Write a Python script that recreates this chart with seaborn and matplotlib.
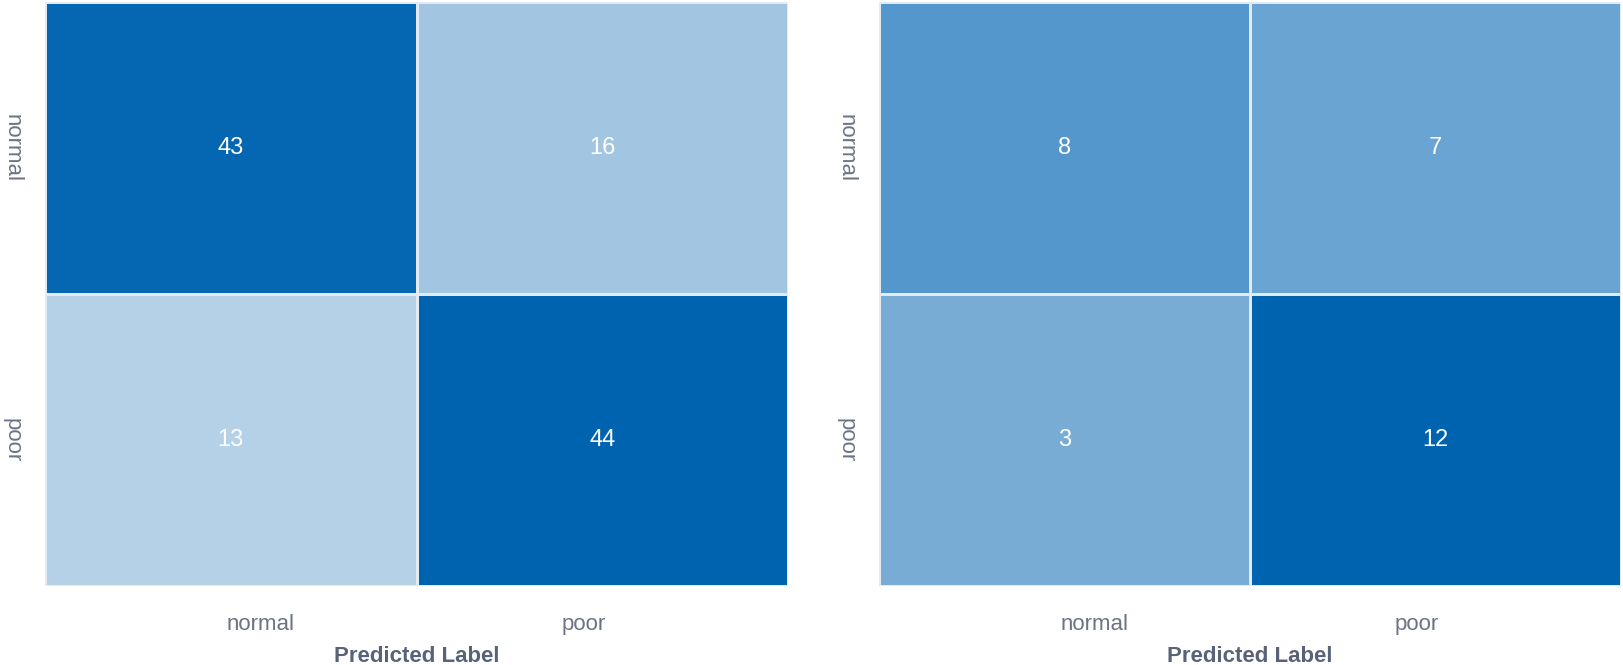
import numpy as np
import matplotlib
matplotlib.use("Agg")
import matplotlib.pyplot as plt
import seaborn as sns
from matplotlib.colors import LinearSegmentedColormap

# confusion matrices (rows = true, cols = predicted)
labels = ["normal", "poor"]
left_counts = [[43, 16],
               [13, 44]]
right_counts = [[8, 7],
                [3, 12]]

sns.set_style("white")
plt.rcParams['font.family'] = ['Liberation Sans', 'DejaVu Sans']

tick_color = "#6b7385"
label_color = "#596378"
line_color = "#e3eaf2"

# left panel: plain white -> blue ramp
cmap_left = LinearSegmentedColormap.from_list("blue_left", ["#ffffff", "#0063b0"])
# right panel: the ramp is not linear in the counts, so anchor it
cmap_right = LinearSegmentedColormap.from_list(
    "blue_right",
    [(0.0, "#ffffff"), (0.25, "#78acd5"), (0.583, "#6aa4d2"),
     (0.667, "#5397cc"), (1.0, "#0063b0")])

W, H = 1623, 665
fig = plt.figure(figsize=(W / 100, H / 100), dpi=100)
ax1 = fig.add_axes([45 / W, 79 / H, 743 / W, 584 / H])
ax2 = fig.add_axes([879 / W, 79 / H, 742 / W, 584 / H])

panels = [(ax1, left_counts, cmap_left, 44), (ax2, right_counts, cmap_right, 12)]
for ax, counts, cmap, vmax in panels:
    sns.heatmap(np.array(counts), ax=ax, cmap=cmap, vmin=0, vmax=vmax,
                annot=True, fmt="d", cbar=False,
                linewidths=2, linecolor=line_color,
                xticklabels=labels, yticklabels=labels,
                annot_kws={"size": 17, "color": "white"})
    # the x labels sit a bit off the cell centres in the original
    ax.set_xticks([0.58, 1.45])
    ax.set_xticklabels(labels)
    ax.tick_params(axis="both", length=0, labelsize=16, labelcolor=tick_color)
    ax.tick_params(axis="x", pad=20)
    ax.tick_params(axis="y", pad=16)
    for t in ax.get_yticklabels():
        t.set_rotation(-90)
        t.set_va("center")
    ax.set_xlabel("Predicted Label", fontsize=16, fontweight="bold",
                  color=label_color, labelpad=8)
    ax.set_ylabel("")

fig.savefig("out.png", dpi=100)
